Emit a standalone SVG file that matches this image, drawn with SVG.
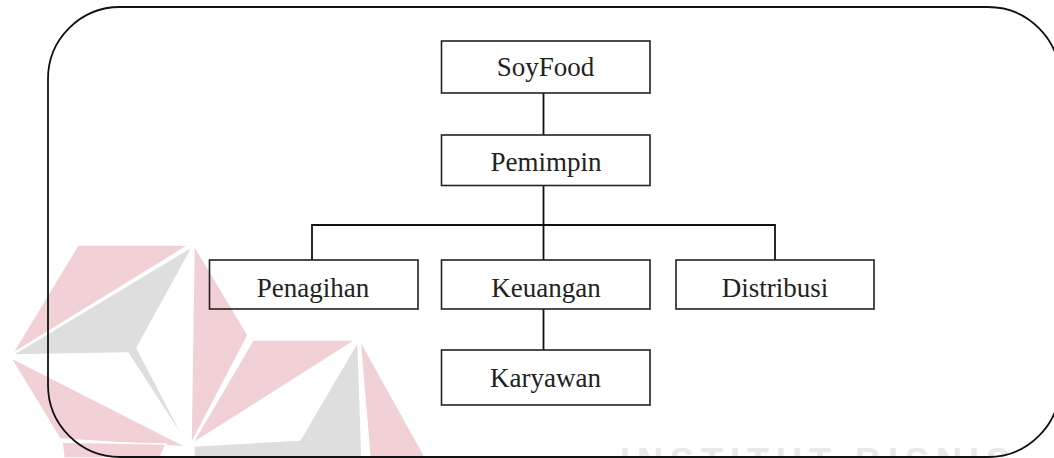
<svg xmlns="http://www.w3.org/2000/svg" width="1054" height="458" viewBox="0 0 1054 458">
<style>
.wm-p{fill:#f2d1d6;stroke:#fff;stroke-width:1.5}
.wm-g{fill:#dedede;stroke:#fff;stroke-width:1.5}
.wm-t{font-family:"Liberation Sans",Arial,sans-serif;font-weight:bold;font-size:36px;fill:#e9e9e9;letter-spacing:7px}
.frame{fill:none;stroke:#111;stroke-width:1.8}
.box{fill:none;stroke:#222;stroke-width:1.6}
.lbl{font-family:"Liberation Serif","Times New Roman",serif;font-size:27px;fill:#222;text-anchor:middle}
.conn{fill:none;stroke:#111;stroke-width:1.8}
</style>
<rect width="1054" height="458" fill="#fff"/>
<g id="watermark">
<polygon class="wm-p" points="78,245 189,245 12,354"/>
<polygon class="wm-p" points="194,245 248,335 191,444"/>
<polygon class="wm-p" points="10,357 60,439 187,447"/>
<polygon class="wm-p" points="62,442 166,444 160,458 64,458"/>
<polygon class="wm-g" points="193,246 12,355 128,353 188,446 137,348"/>
<polygon class="wm-p" points="253,340 356,340 192,444"/>
<polygon class="wm-g" points="358,341 300,440 194,446 194,458 362,458"/>
<polygon class="wm-p" points="360,340 424,455 424,458 370,458"/>
<text class="wm-t" x="620" y="474">INSTITUT BISNIS</text>
</g>
<path class="frame" d="M120 7H988A72 72 0 0 1 1060 79V385A72 72 0 0 1 988 457H120A72 72 0 0 1 48 385V79A72 72 0 0 1 120 7Z"/>
<g id="connectors">
<line class="conn" x1="543.5" y1="93" x2="543.5" y2="135"/>
<line class="conn" x1="543.5" y1="185.5" x2="543.5" y2="260"/>
<polyline class="conn" points="312,260 312,225 775,225 775,260"/>
<line class="conn" x1="543.5" y1="309" x2="543.5" y2="350"/>
</g>
<g id="soyfood"><rect class="box" x="441.5" y="41" width="208.5" height="52"/><text class="lbl" x="545.5" y="76">SoyFood</text></g>
<g id="pemimpin"><rect class="box" x="441.5" y="135" width="208.5" height="50.5"/><text class="lbl" x="546" y="171">Pemimpin</text></g>
<g id="penagihan"><rect class="box" x="209.5" y="260" width="208.5" height="49"/><text class="lbl" x="313" y="297">Penagihan</text></g>
<g id="keuangan"><rect class="box" x="441.5" y="260" width="208.5" height="49"/><text class="lbl" x="546" y="297">Keuangan</text></g>
<g id="distribusi"><rect class="box" x="676" y="260" width="198" height="49"/><text class="lbl" x="775" y="297">Distribusi</text></g>
<g id="karyawan"><rect class="box" x="441.5" y="350" width="208.5" height="55"/><text class="lbl" x="545.5" y="387">Karyawan</text></g>
</svg>
